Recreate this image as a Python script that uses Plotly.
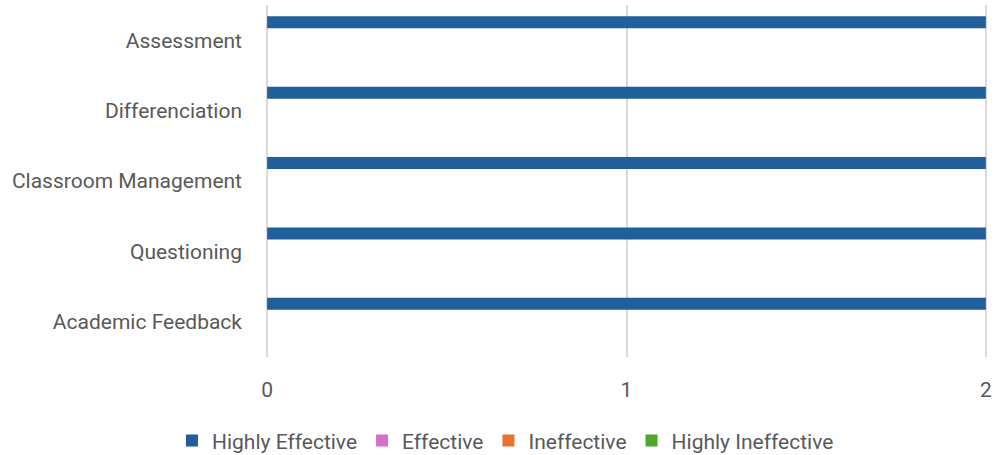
import plotly.graph_objects as go

categories = ["Academic Feedback", "Questioning", "Classroom Management", "Differenciation", "Assessment"]
series_names = ["Highly Effective", "Effective", "Ineffective", "Highly Ineffective"]
highly_effective = [2, 2, 2, 2, 2]
effective = [0, 0, 0, 0, 0]
ineffective = [0, 0, 0, 0, 0]
highly_ineffective = [0, 0, 0, 0, 0]
x_ticks = [0, 1, 2]

values = [highly_effective, effective, ineffective, highly_ineffective]
colors = ["#215F9A", "#D86ECC", "#E97132", "#4EA72E"]

fig = go.Figure()
# add in reverse so the first series sits on top of each cluster
for i in reversed(range(len(series_names))):
    fig.add_trace(go.Bar(
        y=categories, x=values[i], name=series_names[i], orientation="h",
        marker=dict(color=colors[i], line=dict(width=0)),
        legendrank=i + 1,
    ))

font_color = "#595959"
fig.update_layout(
    width=995, height=455,
    margin=dict(l=265, r=7, t=5, b=98),
    barmode="group", bargap=0.32, bargroupgap=0,
    plot_bgcolor="white", paper_bgcolor="white",
    font=dict(family="Roboto", size=21, color=font_color),
    showlegend=True,
    legend=dict(orientation="h", xref="container", yref="container",
                x=0.508, xanchor="center", y=0.031, yanchor="middle",
                font=dict(size=21, color=font_color), itemwidth=30,
                traceorder="normal"),
    xaxis=dict(range=[-0.006, 2.006], tickvals=x_ticks, showgrid=True, gridcolor="#D9D9D9", gridwidth=1.5,
               zeroline=False, showline=False, ticks="", ticklabelstandoff=18, automargin=False,
               tickfont=dict(size=21, color=font_color)),
    yaxis=dict(categoryorder="array", categoryarray=categories, showgrid=False,
               zeroline=False, showline=False, ticks="", ticklabelstandoff=22, automargin=False,
               tickfont=dict(size=21, color=font_color)),
)
fig.write_html(
    "out.html",
    config={"displayModeBar": False},
    post_script="document.body.style.margin='0';document.body.style.overflow='hidden';",
)
